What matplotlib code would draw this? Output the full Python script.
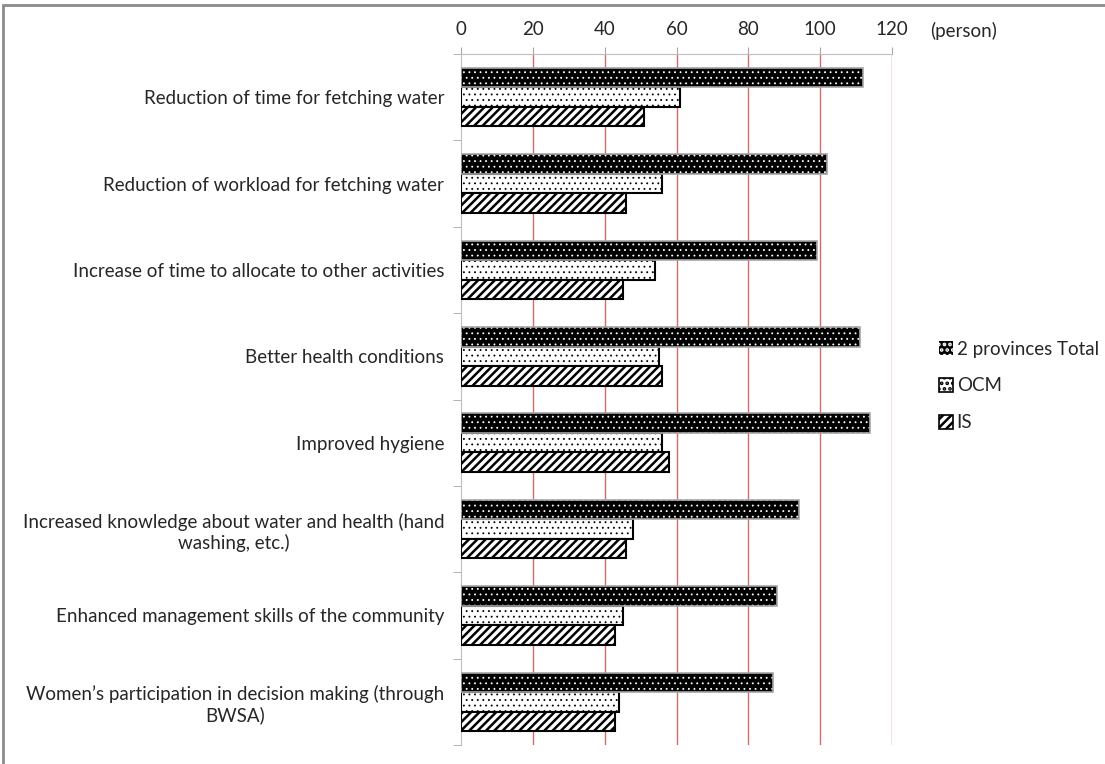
import matplotlib

matplotlib.use("Agg")
import matplotlib.pyplot as plt
import numpy as np
from matplotlib.patches import Patch, Rectangle

plt.rcParams["font.family"] = ["Lato", "DejaVu Sans"]
plt.rcParams["hatch.linewidth"] = 1.8

categories = [
    "Reduction of time for fetching water",
    "Reduction of workload for fetching water",
    "Increase of time to allocate to other activities",
    "Better health conditions",
    "Improved hygiene",
    "Increased knowledge about water and health (hand\nwashing, etc.)",
    "Enhanced management skills of the community",
    "Women\u2019s participation in decision making (through\nBWSA)",
]
total = [112, 102, 99, 111, 114, 94, 88, 87]
ocm = [61, 56, 54, 55, 56, 48, 45, 44]
is_vals = [51, 46, 45, 56, 58, 46, 43, 43]
series_names = ["2 provinces Total", "OCM", "IS"]
x_ticks = [0, 20, 40, 60, 80, 100, 120]

FS = 13.5
TXT = "#262626"


def thin_hatch(artists, lw):
    for a in artists:
        if hasattr(a, "set_hatch_linewidth"):
            a.set_hatch_linewidth(lw)


fig = plt.figure(figsize=(11.05, 7.64), dpi=100)
ax = fig.add_axes([461 / 1105, 1 - 745 / 764, (892 - 461) / 1105, (745 - 54) / 764])

y = np.arange(len(categories))
h = 0.226

# black bars with white dots: hatch drawn in white, outline added on top
b1 = ax.barh(y - h, total, height=h, color="black", edgecolor="white", hatch="...", linewidth=0, zorder=3)
thin_hatch(b1, 0.6)
ax.barh(y - h, total, height=h, fill=False, edgecolor="#a6a6a6", linewidth=1.2, zorder=4)
b2 = ax.barh(y, ocm, height=h, color="white", edgecolor="black", hatch="...", linewidth=1.5, zorder=3)
thin_hatch(b2, 0.6)
ax.barh(y + h, is_vals, height=h, color="white", edgecolor="black", hatch="////", linewidth=1.5, zorder=3)

ax.set_xlim(0, 120)
ax.set_ylim(len(categories) - 0.5, -0.5)
ax.set_xticks(x_ticks)
ax.xaxis.tick_top()
ax.tick_params(axis="x", length=5, color="#a6a6a6", pad=6.5, labelsize=FS, labelcolor=TXT)
for v in x_ticks[1:]:
    ax.axvline(v, color="#d46a6a", linewidth=1.0, zorder=1)

ax.set_yticks(y)
ax.set_yticklabels(categories, fontsize=FS, color=TXT, multialignment="center")
ax.set_yticks(np.arange(len(categories) + 1) - 0.5, minor=True)
ax.tick_params(axis="y", which="major", length=0, pad=12)
ax.tick_params(axis="y", which="minor", length=6, color="#a6a6a6")

for side in ["right", "bottom"]:
    ax.spines[side].set_visible(False)
ax.spines["left"].set_color("#bfbfbf")
ax.spines["top"].set_color("#bfbfbf")

fig.text(930 / 1105, 1 - 31 / 764, "(person)", fontsize=FS, color=TXT, va="center")

handles = [
    Patch(facecolor="black", edgecolor="white", hatch="...", linewidth=0),
    Patch(facecolor="white", edgecolor="black", hatch="...", linewidth=1.2),
    Patch(facecolor="white", edgecolor="black", hatch="////", linewidth=1.2),
]
thin_hatch(handles[:2], 0.6)
fig.legend(
    handles,
    series_names,
    loc="center left",
    bbox_to_anchor=(922 / 1105, 1 - 386 / 764),
    frameon=False,
    fontsize=FS,
    handlelength=0.75,
    handleheight=0.75,
    handletextpad=0.2,
    labelspacing=1.05,
    labelcolor=TXT,
)

# outer chart border
fig.patches.append(
    Rectangle((3 / 1105, -0.05), 1.1, 1 - 5 / 764 + 0.05, transform=fig.transFigure,
              fill=False, edgecolor="#8c8c8c", linewidth=2)
)

fig.savefig("out.png", dpi=100)
